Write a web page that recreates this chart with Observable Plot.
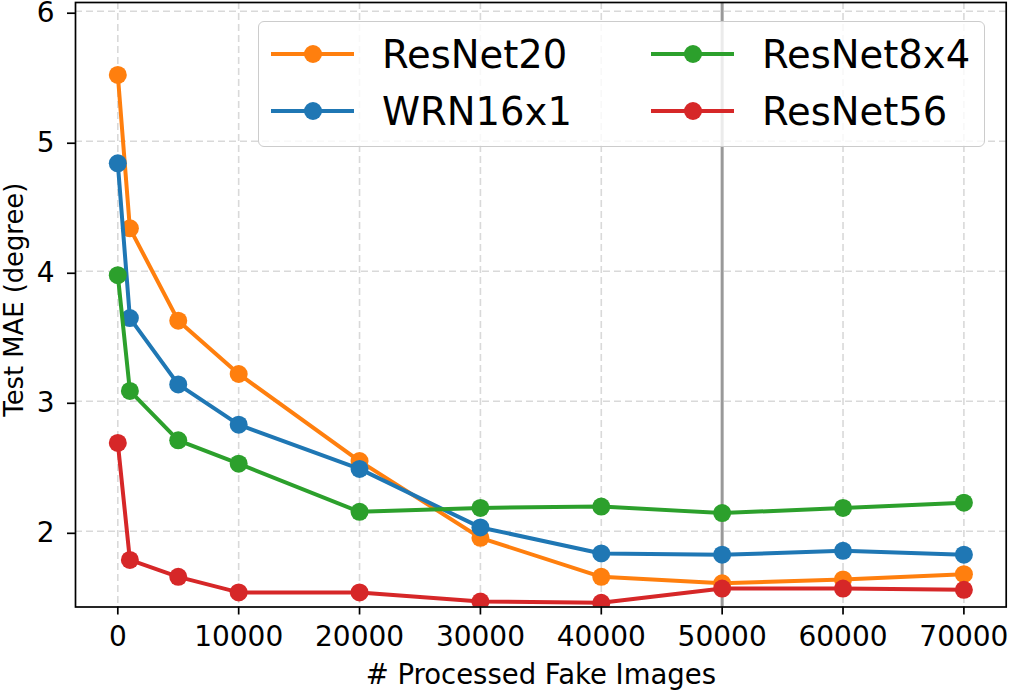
<!DOCTYPE html>
<html>
<head>
<meta charset="utf-8">
<script src="https://cdn.jsdelivr.net/npm/d3@7"></script>
<script src="https://cdn.jsdelivr.net/npm/@observablehq/plot@0.6"></script>
<style>
  html, body { margin: 0; padding: 0; background: #fff; }
  #wrap { position: relative; width: 1009px; height: 692px; font-family: "DejaVu Sans", sans-serif; }
  #legend { position: absolute; left: 258px; top: 21px; width: 727px; height: 126px;
            background: rgba(255,255,255,0.8); border: 1.5px solid #cccccc; border-radius: 6px; box-sizing: border-box; }
  #legend svg { position: absolute; left: 0; top: 0; }
</style>
</head>
<body>
<div id="wrap"><div id="legend"></div></div>
<script>
const xValues = [0, 1000, 5000, 10000, 20000, 30000, 40000, 50000, 60000, 70000];
const seriesNames = ["ResNet20", "WRN16x1", "ResNet8x4", "ResNet56"];
const seriesColors = ["#ff7f0e", "#1f77b4", "#2ca02c", "#d62728"];
const resnet20 = [5.51, 4.33, 3.62, 3.21, 2.54, 1.95, 1.65, 1.60, 1.63, 1.67];
const wrn16x1 = [4.83, 3.64, 3.13, 2.82, 2.48, 2.03, 1.83, 1.82, 1.85, 1.82];
const resnet8x4 = [3.97, 3.08, 2.70, 2.52, 2.15, 2.18, 2.19, 2.14, 2.18, 2.22];
const resnet56 = [2.68, 1.78, 1.65, 1.53, 1.53, 1.46, 1.45, 1.56, 1.56, 1.55];
const seriesValues = [resnet20, wrn16x1, resnet8x4, resnet56];
const xTicks = [0, 10000, 20000, 30000, 40000, 50000, 60000, 70000];
const yTicks = [2, 3, 4, 5, 6];
const markerX = 50000;
const xLabel = "# Processed Fake Images";
const yLabel = "Test MAE (degree)";

const seriesMarks = [];
seriesNames.forEach((name, i) => {
  const rows = xValues.map((x, j) => ({x, y: seriesValues[i][j], series: name}));
  seriesMarks.push(Plot.line(rows, {x: "x", y: "y", stroke: seriesColors[i], strokeWidth: 4, clip: true}));
  seriesMarks.push(Plot.dot(rows, {x: "x", y: "y", fill: seriesColors[i], r: 9, clip: true}));
});

const chart = Plot.plot({
  width: 1009,
  height: 692,
  marginLeft: 75,
  marginRight: 3.3,
  marginTop: 2,
  marginBottom: 85.5,
  style: {fontFamily: "DejaVu Sans", background: "white", color: "black", overflow: "visible"},
  x: {domain: [-3500, 73500]},
  y: {domain: [1.418, 6.067]},
  marks: [
    Plot.gridX(xTicks, {stroke: "#d9d9d9", strokeOpacity: 1, strokeWidth: 1.6, strokeDasharray: "7,4"}),
    Plot.gridY(yTicks, {stroke: "#d9d9d9", strokeOpacity: 1, strokeWidth: 1.6, strokeDasharray: "7,4"}),
    Plot.ruleX([markerX], {stroke: "#999999", strokeWidth: 3}),
    ...seriesMarks,
    Plot.frame({stroke: "black", strokeWidth: 1.7}),
    Plot.axisX(xTicks, {tickSize: 8, tickPadding: 11, fontSize: 28, tickFormat: d3.format("d"), label: null, strokeWidth: 1.7}),
    Plot.axisY(yTicks, {tickSize: 8, tickPadding: 13, fontSize: 28, dy: 2, tickFormat: d3.format("d"), label: null, strokeWidth: 1.7}),
    Plot.text([xLabel], {frameAnchor: "bottom", dy: 76.5, fontSize: 27.5, text: d => d}),
    Plot.text([yLabel], {frameAnchor: "left", textAnchor: "middle", dx: -61, dy: -5, rotate: -90, fontSize: 25.8, text: d => d})
  ]
});
document.getElementById("wrap").prepend(chart);

// legend (matplotlib-style, 2 columns filled column-wise)
const leg = d3.select("#legend").append("svg").attr("width", 727).attr("height", 126);
const colX = [12, 392];
const rowY = [32, 89];
seriesNames.forEach((name, i) => {
  const cx = colX[Math.floor(i / 2)];
  const cy = rowY[i % 2];
  const g = leg.append("g").attr("transform", `translate(${cx},${cy})`);
  g.append("line").attr("x1", 0).attr("x2", 83).attr("y1", 0).attr("y2", 0)
    .attr("stroke", seriesColors[i]).attr("stroke-width", 4);
  g.append("circle").attr("cx", 42).attr("cy", 0).attr("r", 9).attr("fill", seriesColors[i]);
  g.append("text").attr("x", 111).attr("y", 14).attr("font-size", 38.5)
    .attr("font-family", "DejaVu Sans").attr("fill", "black").text(name);
});
</script>
</body>
</html>
